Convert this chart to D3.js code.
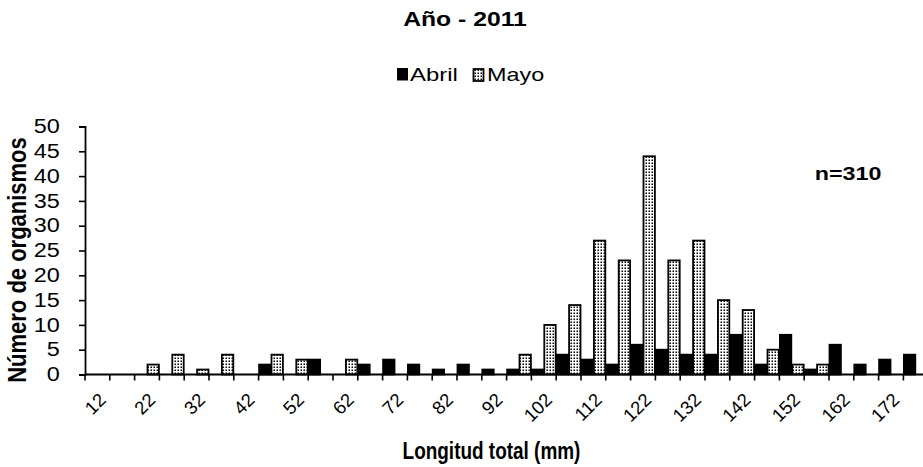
<!DOCTYPE html>
<html><head><meta charset="utf-8">
<script src="https://cdn.jsdelivr.net/npm/d3@7"></script>
<style>body{margin:0;background:#fff}svg{display:block}text{font-family:"Liberation Sans",Arial,sans-serif}</style>
</head><body>
<svg id="c" width="923" height="467"></svg>
<script>
const categories = [12,17,22,27,32,37,42,47,52,57,62,67,72,77,82,87,92,97,102,107,112,117,122,127,132,137,142,147,152,157,162,167,172,177];
const abril = [0,0,0,0,0,0,0,2,0,3,0,2,3,2,1,2,1,1,1,4,3,2,6,5,4,4,8,2,8,1,6,2,3,4];
const mayo  = [0,0,2,4,1,4,0,4,3,0,3,0,0,0,0,0,0,4,10,14,27,23,44,23,27,15,13,5,2,2,0,0,0,0];
const yTicks = [0,5,10,15,20,25,30,35,40,45,50];
const xLabels = categories.filter((d,i)=>i%2===0);
const seriesNames = ["Abril","Mayo"];

const svg = d3.select("#c");
const defs = svg.append("defs");
const pat = defs.append("pattern").attr("id","dots").attr("patternUnits","userSpaceOnUse")
  .attr("width",3).attr("height",3);
pat.append("rect").attr("width",3).attr("height",3).attr("fill","#fff");
pat.append("rect").attr("x",0.5).attr("y",0.5).attr("width",1.5).attr("height",1.5).attr("fill","#000");

const x0 = 85, x1 = 85 + 34*24.8;
const x = d3.scaleBand().domain(categories).range([x0,x1]).padding(0);
const xs = d3.scaleBand().domain(seriesNames).range([0,x.bandwidth()]).padding(0);
const y = d3.scaleLinear().domain([0,50]).range([374.5,126.5]);

// bars
const g = svg.append("g");
categories.forEach((c,i)=>{
  const vals = [abril[i], mayo[i]];
  seriesNames.forEach((s,j)=>{
    if(vals[j]<=0) return;
    g.append("rect")
      .attr("x", x(c)+xs(s)+0.5)
      .attr("y", y(vals[j]))
      .attr("width", xs.bandwidth()-1)
      .attr("height", y(0)-y(vals[j]))
      .attr("fill", j===0 ? "#000" : "url(#dots)")
      .attr("stroke","#000").attr("stroke-width",1.8);
  });
});

// y axis
const ya = svg.append("g").attr("transform",`translate(${x0},0)`)
  .call(d3.axisLeft(y).tickValues(yTicks).tickSize(6).tickPadding(15));
ya.select(".domain").attr("stroke","#000").attr("stroke-width",1.8);
ya.selectAll(".tick line").attr("stroke","#000").attr("stroke-width",1.6);
ya.selectAll(".tick text").attr("font-size",19.5).attr("fill","#000")
  .attr("transform","scale(1.2,1)").style("font-family","Liberation Sans, Arial");

// x axis line and ticks at category boundaries
const xa = svg.append("g").attr("transform",`translate(0,${y(0)})`);
xa.append("line").attr("x1",x0).attr("x2",x1).attr("stroke","#000").attr("stroke-width",1.8);
const bounds = categories.map(c=>x(c)).concat([x1]);
xa.selectAll("line.tk").data(bounds).join("line").attr("class","tk")
  .attr("x1",d=>d).attr("x2",d=>d).attr("y1",0).attr("y2",6).attr("stroke","#000").attr("stroke-width",1.6);
xa.selectAll("text.xl").data(xLabels).join("text").attr("class","xl")
  .attr("transform",d=>`translate(${x(d)+x.bandwidth()/2+5},${22}) rotate(-45)`)
  .attr("text-anchor","end").attr("dy","0.35em")
  .attr("font-size",18.5).attr("fill","#000")
  .text(d=>d);

// titles
svg.append("text").attr("transform","translate(465,26) scale(1.27,1)").attr("text-anchor","middle")
  .attr("font-size",19.5).attr("font-weight","bold").text("Año - 2011");
svg.append("text").attr("transform","translate(26,260) scale(1.2,1) rotate(-90)").attr("text-anchor","middle")
  .attr("font-size",22).attr("font-weight","bold").text("Número de organismos");
svg.append("text").attr("transform","translate(491.5,459) scale(0.79,1)").attr("text-anchor","middle")
  .attr("font-size",24).attr("font-weight","bold").text("Longitud total (mm)");
svg.append("text").attr("transform","translate(848,180) scale(1.26,1)").attr("text-anchor","middle")
  .attr("font-size",18.5).attr("font-weight","bold").text("n=310");

// legend
const lg = svg.append("g");
lg.append("rect").attr("x",397).attr("y",68).attr("width",11).attr("height",12.5).attr("fill","#000");
lg.append("text").attr("transform","translate(410,81) scale(1.33,1)").attr("font-size",18).text("Abril");
lg.append("rect").attr("x",473.5).attr("y",69).attr("width",10).attr("height",12).attr("fill","url(#dots)").attr("stroke","#000").attr("stroke-width",1.8);
lg.append("text").attr("transform","translate(487,81) scale(1.3,1)").attr("font-size",18).text("Mayo");
</script>
</body></html>
